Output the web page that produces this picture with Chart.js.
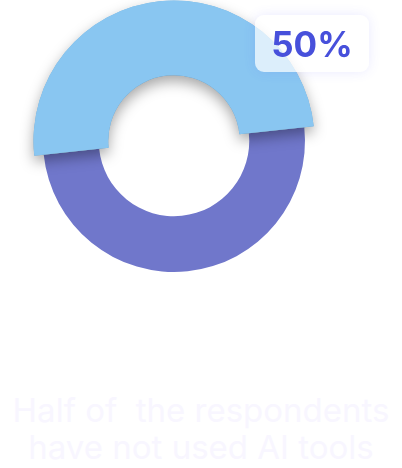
<!DOCTYPE html>
<html>
<head>
<meta charset="utf-8">
<script src="https://cdn.jsdelivr.net/npm/chart.js@4"></script>
<style>
  html, body { margin: 0; padding: 0; background: #fff; }
  #wrap { position: relative; width: 402px; height: 468px; overflow: hidden; }
  #chart { position: absolute; left: 0; top: 0; }
  #badge {
    position: absolute; left: 255px; top: 15px; width: 114px; height: 57px;
    background: rgba(255, 255, 255, 0.7);
    border-radius: 9px;
    box-shadow: 0 0 12px rgba(90, 90, 255, 0.13);
    display: flex; align-items: center; justify-content: center;
    font-family: Inter, "Noto Sans", sans-serif; font-weight: 700; font-size: 35px;
    color: #4750DB;
  }
  #caption {
    position: absolute; left: 0; top: 392px; width: 402px; text-align: center;
    font-family: Inter, "Noto Sans", sans-serif; font-weight: 400; font-size: 33px;
    line-height: 37px; color: #F8F6FF; white-space: pre;
  }
</style>
</head>
<body>
<div id="wrap">
  <canvas id="chart" width="402" height="300"></canvas>
  <div id="badge"></div>
  <div id="caption">Half of  the respondents
have not used AI tools</div>
</div>
<script>
// Chart data
const categories = ['Used AI tools', 'Have not used AI tools'];
const shares = [50, 50];
const sliceColors = ['#7077CB', '#89C6F1'];
const highlightIndex = 1;   // the raised slice
const highlightGrow = 9.5;  // extra ring thickness on each side

// Make the highlighted slice thicker and give it a drop shadow
const highlightPlugin = {
    id: 'highlight',
    beforeDatasetsDraw(chart) {
        const meta = chart.getDatasetMeta(0);
        const arc = meta.data[highlightIndex];
        arc.outerRadius = meta.controller.outerRadius + highlightGrow;
        arc.innerRadius = meta.controller.innerRadius - highlightGrow;
    },
    afterDatasetsDraw(chart) {
        const ctx = chart.ctx;
        const arc = chart.getDatasetMeta(0).data[highlightIndex];
        ctx.save();
        ctx.shadowColor = 'rgba(0, 0, 0, 0.35)';
        ctx.shadowBlur = 14;
        ctx.shadowOffsetY = 6;
        arc.draw(ctx);
        ctx.restore();
    }
};

const total = shares.reduce((a, b) => a + b, 0);
document.getElementById('badge').textContent =
    Math.round(shares[highlightIndex] / total * 100) + '%';

new Chart(document.getElementById('chart').getContext('2d'), {
    type: 'doughnut',
    data: {
        labels: categories,
        datasets: [{
            data: shares,
            backgroundColor: sliceColors,
            borderWidth: 0
        }]
    },
    options: {
        responsive: false,
        animation: false,
        events: [],
        rotation: 84,
        radius: 131,
        cutout: 81,
        layout: { padding: { left: 0, right: 54, top: 0, bottom: 18 } },
        plugins: {
            legend: { display: false },
            tooltip: { enabled: false }
        }
    },
    plugins: [highlightPlugin]
});
</script>
</body>
</html>
